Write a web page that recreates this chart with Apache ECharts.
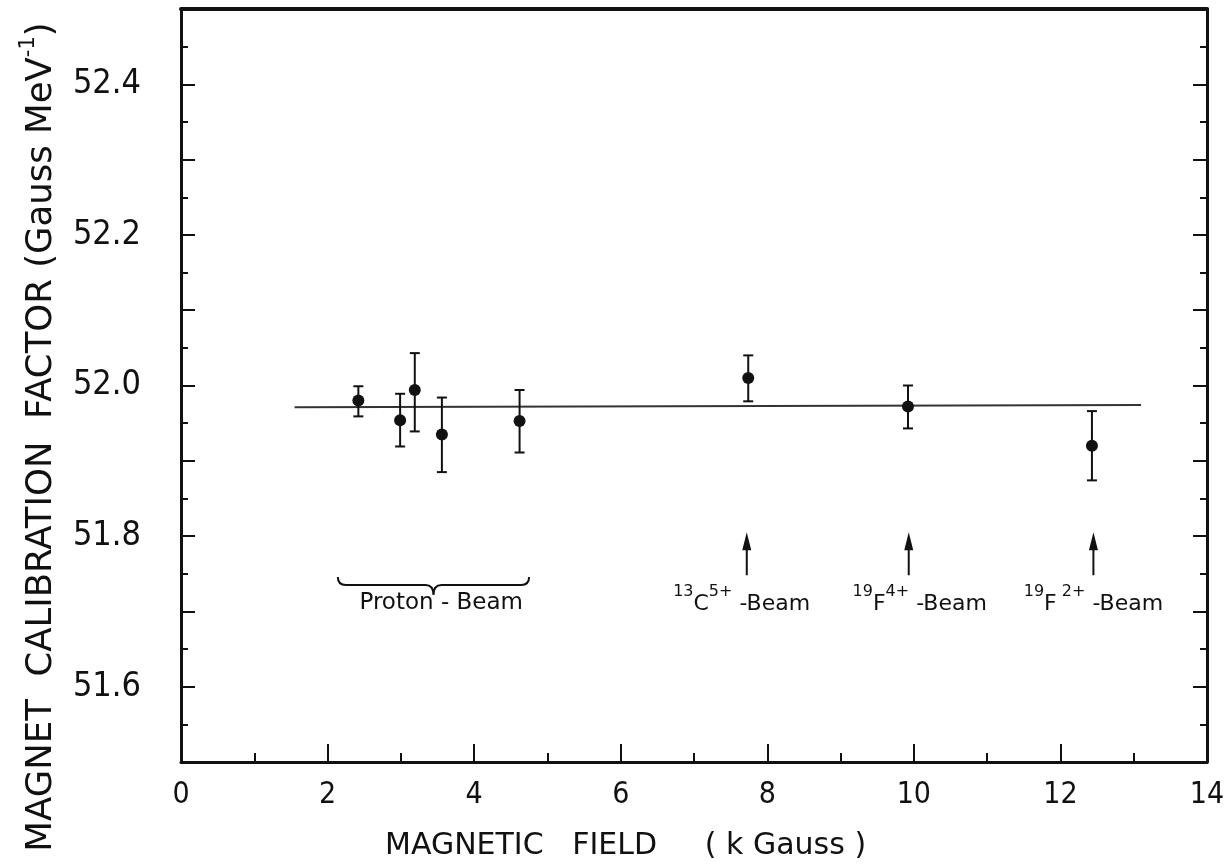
<!DOCTYPE html>
<html><head><meta charset="utf-8">
<script src="https://cdn.jsdelivr.net/npm/echarts@6/dist/echarts.min.js"></script>
<style>html,body{margin:0;padding:0;background:#fff}#c{width:1230px;height:867px}</style>
</head><body><div id="c"></div>
<script>
// ---- data ----
const fieldX   = [2.42, 2.99, 3.19, 3.56, 4.62, 7.74, 9.92, 12.43];
const calib    = [51.980, 51.954, 51.994, 51.935, 51.953, 52.010, 51.972, 51.920];
const errLow   = [51.959, 51.919, 51.939, 51.885, 51.911, 51.979, 51.943, 51.874];
const errHigh  = [51.999, 51.989, 52.043, 51.984, 51.994, 52.040, 52.000, 51.966];
const fitX     = [1.55, 13.1];
const fitY     = [51.971, 51.974];
const yLabelValues = [51.6, 51.8, 52.0, 52.2, 52.4];
const beamArrowX = [7.72, 9.93, 12.45];
const beamArrowY = [51.748, 51.805];
const beamLabelX = [7.65, 10.08, 12.45];
const beamLabelY = 51.716;
const beamLabels = [
  '{sup|13}{base|C}{sup|5+}{base| -Beam}',
  '{sup|19}{base|F}{sup|4+}{base| -Beam}',
  '{sup|19}{base|F}{sup| 2+}{base| -Beam}'
];
const protonBraceX = [2.14, 4.75];
const protonBraceY = 51.735;
const protonLabelPos = [3.55, 51.711];
const protonLabel = 'Proton - Beam';

const FONT_C = "'DejaVu Sans Condensed','DejaVu Sans',sans-serif";
const FONT = "'DejaVu Sans',sans-serif";
const INK = '#111';

const chart = echarts.init(document.getElementById('c'), null, {renderer: 'canvas'});

const errData = fieldX.map((x, i) => [x, errLow[i], errHigh[i]]);
const ptData = fieldX.map((x, i) => [x, calib[i]]);
const fitData = fitX.map((x, i) => [x, fitY[i]]);

const richText = {
  base: {fontSize: 22, fontFamily: FONT, fill: INK, lineHeight: 32, verticalAlign: 'bottom'},
  sup: {fontSize: 16, fontFamily: FONT, fill: INK, lineHeight: 16, verticalAlign: 'top'}
};

const yFmt = v => {
  const hit = yLabelValues.some(t => Math.abs(t - v) < 1e-6);
  return hit ? v.toFixed(1) : '';
};

const tickStyle = {color: INK, width: 2};

const option = {
  backgroundColor: '#fff',
  animation: false,
  grid: {left: 181, right: 23, top: 9, bottom: 105, containLabel: false},
  xAxis: [{
    type: 'value', min: 0, max: 14, interval: 2, position: 'bottom',
    axisLine: {show: true, onZero: false, lineStyle: {color: INK, width: 3}},
    axisTick: {show: true, inside: true, length: 18, lineStyle: tickStyle},
    minorTick: {show: true, splitNumber: 2, length: 9, lineStyle: tickStyle},
    axisLabel: {color: INK, fontSize: 30, fontFamily: FONT_C, margin: 18},
    splitLine: {show: false}
  }, {
    type: 'value', min: 0, max: 14, position: 'top',
    axisLine: {show: true, onZero: false, lineStyle: {color: INK, width: 4}},
    axisTick: {show: false}, axisLabel: {show: false}, splitLine: {show: false}
  }],
  yAxis: [{
    type: 'value', min: 51.5, max: 52.5, interval: 0.1, position: 'left',
    axisLine: {show: true, onZero: false, lineStyle: {color: INK, width: 3}},
    axisTick: {show: true, inside: true, length: 14, lineStyle: tickStyle},
    minorTick: {show: true, splitNumber: 2, length: 7, lineStyle: tickStyle},
    axisLabel: {color: INK, fontSize: 34, fontFamily: FONT_C, margin: 40, formatter: yFmt},
    splitLine: {show: false}
  }, {
    type: 'value', min: 51.5, max: 52.5, interval: 0.1, position: 'right',
    axisLine: {show: true, onZero: false, lineStyle: {color: INK, width: 3}},
    axisTick: {show: true, inside: true, length: 14, lineStyle: tickStyle},
    minorTick: {show: true, splitNumber: 2, length: 7, lineStyle: tickStyle},
    axisLabel: {show: false}, splitLine: {show: false}
  }],
  graphic: [{
    type: 'text', left: 385, top: 831,
    style: {text: 'MAGNETIC   FIELD     ( k Gauss )', fontSize: 30, fontFamily: FONT, fill: INK}
  }, {
    type: 'text', x: 18, y: 437, rotation: Math.PI / 2,
    style: {
      text: '{t|MAGNET  CALIBRATION  FACTOR (Gauss MeV}{s|-1}{t|)}',
      align: 'center', verticalAlign: 'top',
      rich: {
        t: {fontSize: 35.5, fontFamily: FONT, fill: INK, lineHeight: 42, verticalAlign: 'bottom'},
        s: {fontSize: 21, fontFamily: FONT, fill: INK, lineHeight: 21, verticalAlign: 'top'}
      }
    }
  }],
  series: [{
    type: 'line', data: fitData, symbol: 'none', yAxisIndex: 0,
    lineStyle: {color: '#333', width: 2}, z: 2
  }, {
    type: 'custom', data: errData, z: 3,
    renderItem: (params, api) => {
      const x = api.value(0);
      const lo = api.coord([x, api.value(1)]);
      const hi = api.coord([x, api.value(2)]);
      const w = 5;
      const st = {stroke: INK, lineWidth: 2};
      return {type: 'group', children: [
        {type: 'line', shape: {x1: lo[0], y1: lo[1], x2: hi[0], y2: hi[1]}, style: st},
        {type: 'line', shape: {x1: lo[0] - w, y1: lo[1], x2: lo[0] + w, y2: lo[1]}, style: st},
        {type: 'line', shape: {x1: hi[0] - w, y1: hi[1], x2: hi[0] + w, y2: hi[1]}, style: st}
      ]};
    }
  }, {
    type: 'scatter', data: ptData, symbol: 'circle', symbolSize: 12,
    itemStyle: {color: INK, opacity: 1}, z: 4
  }, {
    type: 'custom', data: beamArrowX.map((x, i) => [x, beamLabelX[i], i]), z: 5,
    renderItem: (params, api) => {
      const x = api.value(0);
      const b = api.coord([x, beamArrowY[0]]);
      const t = api.coord([x, beamArrowY[1]]);
      const lp = api.coord([api.value(1), beamLabelY]);
      const idx = api.value(2);
      return {type: 'group', children: [
        {type: 'line', shape: {x1: b[0], y1: b[1], x2: t[0], y2: t[1] + 14}, style: {stroke: INK, lineWidth: 2}},
        {type: 'polygon', shape: {points: [[t[0], t[1]], [t[0] - 4.5, t[1] + 18], [t[0] + 4.5, t[1] + 18]]}, style: {fill: INK}},
        {type: 'text', x: lp[0], y: lp[1], style: {text: beamLabels[idx], rich: richText, align: 'center', verticalAlign: 'middle'}}
      ]};
    }
  }, {
    type: 'custom', data: [[protonBraceX[0], protonBraceX[1], protonBraceY]], z: 5,
    renderItem: (params, api) => {
      const a = api.coord([api.value(0), api.value(2)]);
      const b = api.coord([api.value(1), api.value(2)]);
      const lp = api.coord(protonLabelPos);
      const m = (a[0] + b[0]) / 2;
      const y = a[1];
      const path = `M${a[0]} ${y - 8} Q${a[0]} ${y} ${a[0] + 8} ${y} L${m - 8} ${y} Q${m} ${y} ${m} ${y + 10} Q${m} ${y} ${m + 8} ${y} L${b[0] - 8} ${y} Q${b[0]} ${y} ${b[0]} ${y - 8}`;
      return {type: 'group', children: [
        {type: 'path', shape: {pathData: path}, style: {stroke: INK, lineWidth: 2, fill: null}},
        {type: 'text', x: lp[0], y: lp[1], style: {text: protonLabel, fontSize: 23, fontFamily: FONT, fill: INK, align: 'center', verticalAlign: 'middle'}}
      ]};
    }
  }]
};
chart.setOption(option);
</script>
</body></html>
